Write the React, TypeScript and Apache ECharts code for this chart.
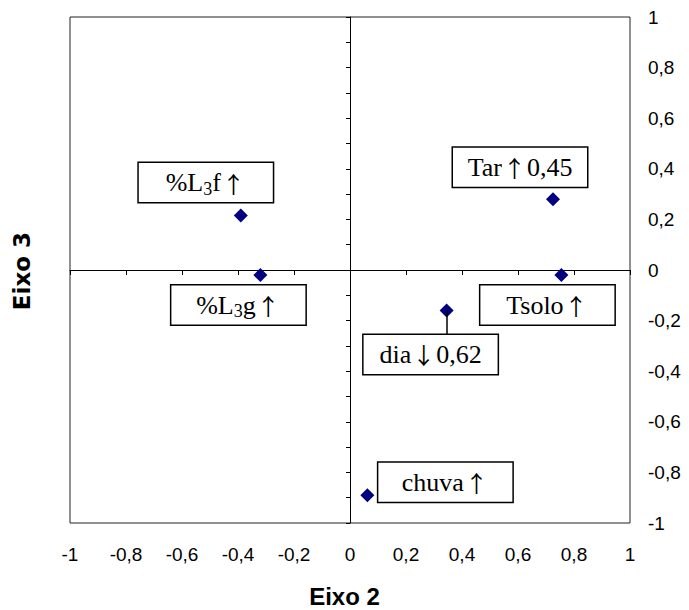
import React, { useEffect, useRef } from "react";
import * as echarts from "echarts";

// Data
const names = ["%L3f", "%L3g", "Tar", "Tsolo", "dia", "chuva"];
const eixo2 = [-0.39, -0.32, 0.725, 0.755, 0.345, 0.062];
const eixo3 = [0.215, -0.02, 0.28, -0.02, -0.16, -0.89];
const boxTexts = [
  "{t|%L}{s|3}{t|f}{a|↑}",
  "{t|%L}{s|3}{t|g}{a|↑}",
  "{t|Tar}{a|↑}{t|0,45}",
  "{t|Tsolo}{a|↑}",
  "{t|dia}{a|↓}{t|0,62}",
  "{t|chuva}{a|↑}",
];
// label box offsets from each point (px)
const boxOffsets: [number, number][] = [
  [-35, -33],
  [-22, 30],
  [-33, -32],
  [-14, 30],
  [-16, 44],
  [78, -13],
];
const leaderIndex = 4;
const leaderLength = 0.095;

const fmt = (v: number) => String(Number(v.toFixed(1))).replace(".", ",");

const serif = "'Liberation Serif', 'Times New Roman', serif";
const tokenBase = {
  color: "#000",
  align: "center",
  lineHeight: 39,
  textBorderWidth: 0,
  textBorderColor: "transparent",
  textShadowBlur: 0,
};

export default function App() {
  const ref = useRef<HTMLDivElement>(null);
  useEffect(() => {
    if (!ref.current) return;
    const chart = echarts.init(ref.current, undefined, { renderer: "svg" });
    const axisFont = { fontFamily: "'Liberation Sans', Arial, sans-serif", fontSize: 19, color: "#000" };
    chart.setOption({
      animation: false,
      backgroundColor: "#fff",
      grid: {
        left: 70,
        right: 59,
        top: 17,
        bottom: 87,
        show: true,
        borderColor: "#222",
        borderWidth: 1,
        backgroundColor: "transparent",
      },
      xAxis: [
        {
          type: "value",
          min: -1,
          max: 1,
          interval: 0.2,
          position: "bottom",
          axisLine: { show: false, onZero: false },
          axisTick: { show: false },
          splitLine: { show: false },
          axisLabel: { ...axisFont, margin: 22, formatter: fmt },
        },
        {
          type: "value",
          min: -1,
          max: 1,
          interval: 0.2,
          position: "top",
          axisLine: { show: true, onZero: true, lineStyle: { color: "#000", width: 1 } },
          axisTick: { show: true, inside: true, length: 5, lineStyle: { color: "#000", width: 1 } },
          splitLine: { show: false },
          axisLabel: { show: false },
        },
      ],
      yAxis: [
        {
          type: "value",
          min: -1,
          max: 1,
          interval: 0.2,
          position: "right",
          axisLine: { show: false, onZero: false },
          axisTick: { show: false },
          splitLine: { show: false },
          axisLabel: { ...axisFont, margin: 18, formatter: fmt },
        },
        {
          type: "value",
          min: -1,
          max: 1,
          interval: 0.1,
          position: "left",
          axisLine: { show: true, onZero: true, lineStyle: { color: "#000", width: 1 } },
          axisTick: { show: true, inside: false, length: 4, lineStyle: { color: "#000", width: 1 } },
          splitLine: { show: false },
          axisLabel: { show: false },
        },
      ],
      graphic: [
        {
          type: "text",
          left: "center",
          top: 584,
          style: {
            text: "Eixo 2",
            font: "bold 24px 'Liberation Sans', Arial, sans-serif",
            fill: "#000",
          },
        },
        {
          type: "text",
          x: 22,
          y: 271,
          rotation: Math.PI / 2,
          style: {
            text: "Eixo 3",
            font: "bold 23px 'DejaVu Sans', sans-serif",
            fill: "#000",
            align: "center",
            verticalAlign: "middle",
          },
        },
      ],
      series: [
        {
          type: "scatter",
          xAxisIndex: 0,
          yAxisIndex: 0,
          symbol: "diamond",
          symbolSize: 14,
          itemStyle: { color: "#000080", opacity: 1 },
          z: 3,
          data: names.map((n, i) => ({
            name: n,
            value: [eixo2[i], eixo3[i]],
            label: {
              show: true,
              position: "inside",
              offset: boxOffsets[i],
              formatter: boxTexts[i],
              color: "#000",
              textBorderWidth: 0,
              textBorderColor: "transparent",
              backgroundColor: "#fff",
              borderColor: "#000",
              borderWidth: 1.5,
              width: 134,
              lineHeight: 39,
              padding: 0,
              align: "center",
              verticalAlign: "middle",
              rich: {
                t: { ...tokenBase, fontFamily: serif, fontSize: 26 },
                s: { ...tokenBase, fontFamily: serif, fontSize: 18, padding: [12, 0, 0, 0] },
                a: {
                  ...tokenBase,
                  fontFamily: "'Noto Sans CJK JP', sans-serif",
                  fontSize: 23,
                  padding: [0, 1, 0, 1],
                },
              },
            },
          })),
          markLine: {
            silent: true,
            symbol: ["none", "none"],
            label: { show: false },
            lineStyle: { color: "#000", width: 1.5, type: "solid" },
            data: [
              [
                { coord: [eixo2[leaderIndex], eixo3[leaderIndex]] },
                { coord: [eixo2[leaderIndex], eixo3[leaderIndex] - leaderLength] },
              ],
            ],
          },
        },
      ],
    });
    return () => chart.dispose();
  }, []);
  return (
    <div
      ref={ref}
      style={{ position: "fixed", left: 0, top: 0, width: 689, height: 610 }}
    />
  );
}
